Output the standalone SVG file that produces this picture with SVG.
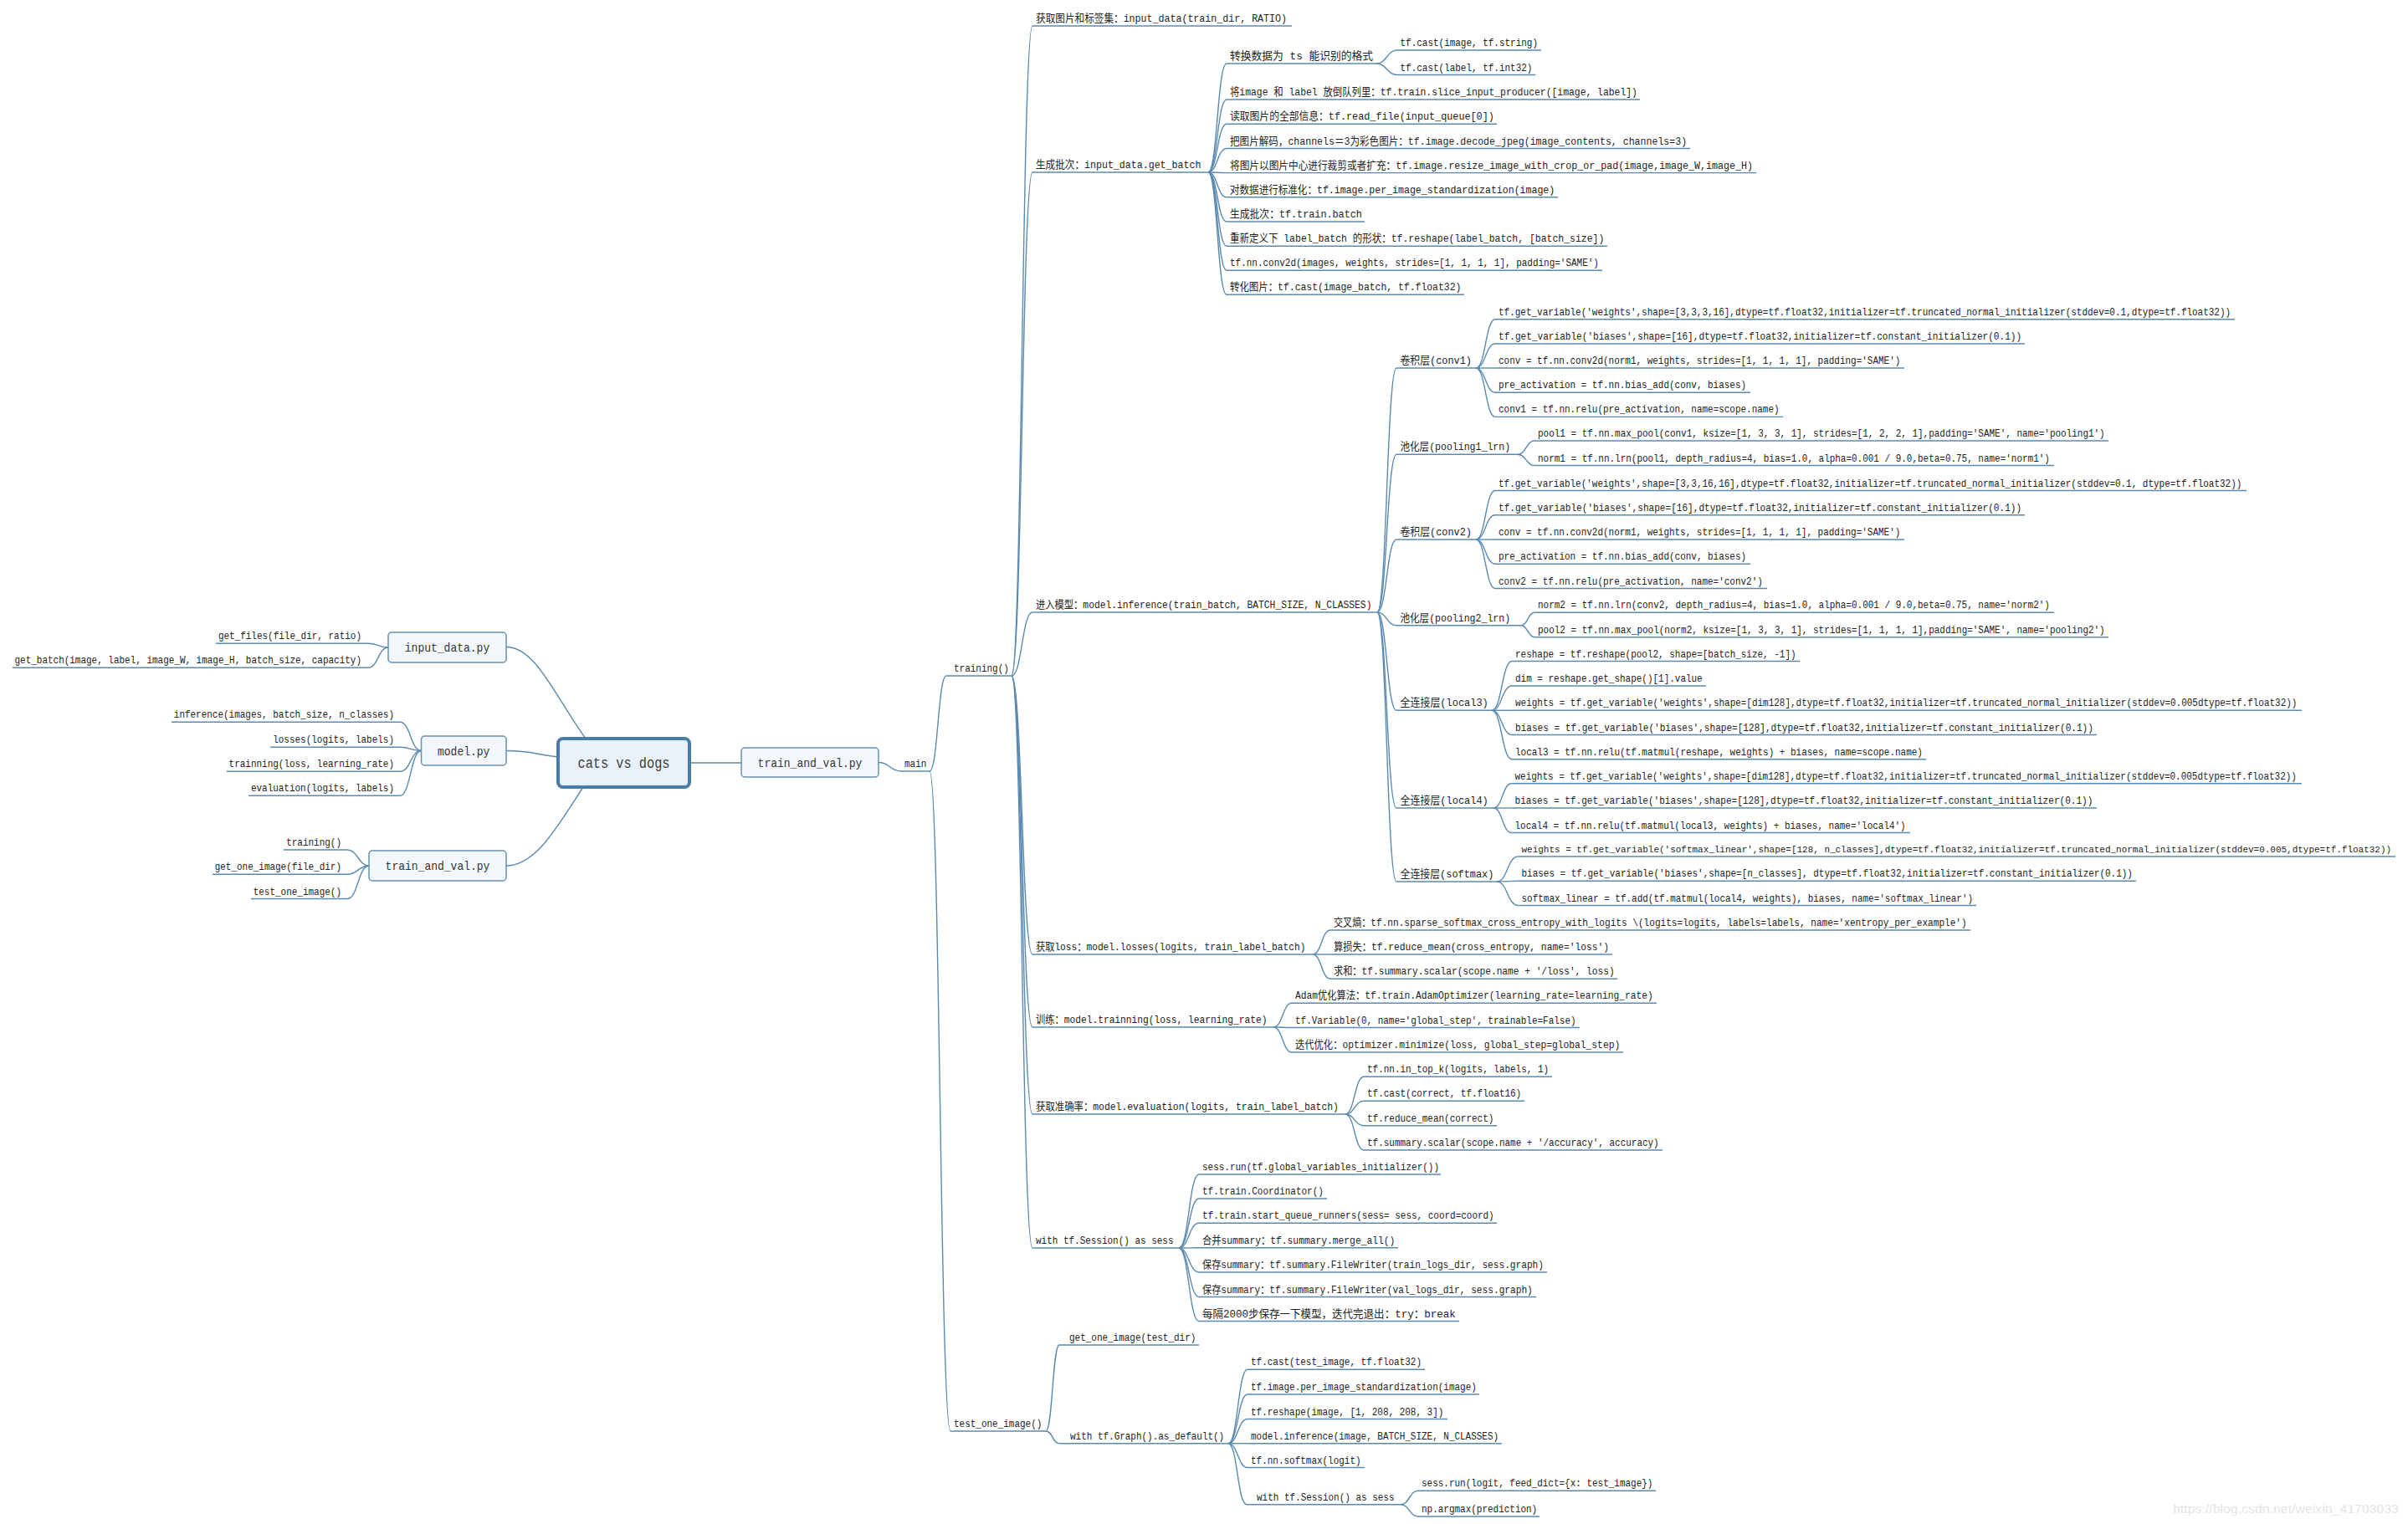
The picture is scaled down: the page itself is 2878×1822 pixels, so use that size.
<svg xmlns="http://www.w3.org/2000/svg" width="2878" height="1822" viewBox="0 0 2878 1822">
<style>
.t{font-family:"Liberation Mono","Noto Sans CJK SC",monospace;font-size:13px;fill:#222}
.s12{font-size:12px}
.s11{font-size:11px}
.bt{font-family:"Liberation Mono","Noto Sans CJK SC",monospace;font-size:15px;fill:#333}
.rt{font-family:"Liberation Mono","Noto Sans CJK SC",monospace;font-size:18px;fill:#3c3c3c}
.u,.c{fill:none;stroke:#5b8ab0;stroke-width:1.4}
.bx{fill:#f2f7fc;stroke:#6590b5;stroke-width:1.5}
.root{fill:#e8f1fa;stroke:#4a7ca8;stroke-width:4}
.wm{font-family:"Liberation Sans",Arial,sans-serif;font-size:15px;fill:#e4e4e4}
</style>
<rect width="2878" height="1822" fill="#ffffff"/>
<g id="connectors">
<path class="c" d="M605 773.5 C640 773.5 662 830 700 883"/>
<path class="c" d="M605 897.5 C635 897.5 640 902 667 905"/>
<path class="c" d="M605 1035 C640 1035 665 990 697 941"/>
<path class="c" d="M824 912 H886"/>
<path class="c" d="M464 774 C452 774 452 769.3 440 769.3"/>
<path class="c" d="M464 774 C452 774 452 798.3 440 798.3"/>
<path class="c" d="M503.5 897.5 C490.75 897.5 490.75 863.3 478 863.3"/>
<path class="c" d="M503.5 897.5 C490.75 897.5 490.75 893.3 478 893.3"/>
<path class="c" d="M503.5 897.5 C490.75 897.5 490.75 922.3 478 922.3"/>
<path class="c" d="M503.5 897.5 C490.75 897.5 490.75 951.3 478 951.3"/>
<path class="c" d="M441 1035 C428 1035 428 1016 415 1016"/>
<path class="c" d="M441 1035 C428 1035 428 1045.3 415 1045.3"/>
<path class="c" d="M441 1035 C428 1035 428 1074.5 415 1074.5"/>
<path class="c" d="M1050 911.5 C1063.5 911.5 1063.5 922 1077 922"/>
<path class="c" d="M1111 922 C1121 922 1121 808 1131 808"/>
<path class="c" d="M1111 922 C1123.5 922 1123.5 1711 1136 1711"/>
<path class="c" d="M1209 808 C1221.5 808 1221.5 31 1234 31"/>
<path class="c" d="M1209 808 C1221.5 808 1221.5 206 1234 206"/>
<path class="c" d="M1209 808 C1221.5 808 1221.5 732 1234 732"/>
<path class="c" d="M1209 808 C1221.5 808 1221.5 1141 1234 1141"/>
<path class="c" d="M1209 808 C1221.5 808 1221.5 1228 1234 1228"/>
<path class="c" d="M1209 808 C1221.5 808 1221.5 1332 1234 1332"/>
<path class="c" d="M1209 808 C1221.5 808 1221.5 1492 1234 1492"/>
<path class="c" d="M1250 1711 C1258 1711 1258 1608 1266 1608"/>
<path class="c" d="M1250 1711 C1258 1711 1258 1725.7 1266 1725.7"/>
<path class="c" d="M1444 206 C1455 206 1455 76 1466 76"/>
<path class="c" d="M1444 206 C1455 206 1455 119 1466 119"/>
<path class="c" d="M1444 206 C1455 206 1455 148.3 1466 148.3"/>
<path class="c" d="M1444 206 C1455 206 1455 177.5 1466 177.5"/>
<path class="c" d="M1444 206 C1455 206 1455 206.6 1466 206.6"/>
<path class="c" d="M1444 206 C1455 206 1455 235.8 1466 235.8"/>
<path class="c" d="M1444 206 C1455 206 1455 265 1466 265"/>
<path class="c" d="M1444 206 C1455 206 1455 294.2 1466 294.2"/>
<path class="c" d="M1444 206 C1455 206 1455 323.2 1466 323.2"/>
<path class="c" d="M1444 206 C1455 206 1455 352.2 1466 352.2"/>
<path class="c" d="M1645 76 C1657.5 76 1657.5 60 1670 60"/>
<path class="c" d="M1645 76 C1657.5 76 1657.5 89.5 1670 89.5"/>
<path class="c" d="M1646 732 C1657.5 732 1657.5 440 1669 440"/>
<path class="c" d="M1646 732 C1657.5 732 1657.5 543.3 1669 543.3"/>
<path class="c" d="M1646 732 C1657.5 732 1657.5 645 1669 645"/>
<path class="c" d="M1646 732 C1657.5 732 1657.5 747.7 1669 747.7"/>
<path class="c" d="M1646 732 C1657.5 732 1657.5 849.3 1669 849.3"/>
<path class="c" d="M1646 732 C1657.5 732 1657.5 966 1669 966"/>
<path class="c" d="M1646 732 C1657.5 732 1657.5 1054 1669 1054"/>
<path class="c" d="M1764 440 C1775.5 440 1775.5 381.7 1787 381.7"/>
<path class="c" d="M1764 440 C1775.5 440 1775.5 411 1787 411"/>
<path class="c" d="M1764 440 H1787"/>
<path class="c" d="M1764 440 C1775.5 440 1775.5 469.2 1787 469.2"/>
<path class="c" d="M1764 440 C1775.5 440 1775.5 498.4 1787 498.4"/>
<path class="c" d="M1814 543.3 C1824 543.3 1824 527 1834 527"/>
<path class="c" d="M1814 543.3 C1824 543.3 1824 556.5 1834 556.5"/>
<path class="c" d="M1764 645 C1775.5 645 1775.5 586.5 1787 586.5"/>
<path class="c" d="M1764 645 C1775.5 645 1775.5 615.8 1787 615.8"/>
<path class="c" d="M1764 645 H1787"/>
<path class="c" d="M1764 645 C1775.5 645 1775.5 674.3 1787 674.3"/>
<path class="c" d="M1764 645 C1775.5 645 1775.5 703.5 1787 703.5"/>
<path class="c" d="M1818 747.7 C1826 747.7 1826 732.3 1834 732.3"/>
<path class="c" d="M1818 747.7 C1826 747.7 1826 761.7 1834 761.7"/>
<path class="c" d="M1783 849.3 C1795 849.3 1795 790.5 1807 790.5"/>
<path class="c" d="M1783 849.3 C1795 849.3 1795 820 1807 820"/>
<path class="c" d="M1783 849.3 H1807"/>
<path class="c" d="M1783 849.3 C1795 849.3 1795 878.5 1807 878.5"/>
<path class="c" d="M1783 849.3 C1795 849.3 1795 907.7 1807 907.7"/>
<path class="c" d="M1785 966 C1795.7 966 1795.7 936.8 1806.5 936.8"/>
<path class="c" d="M1785 966 H1806.5"/>
<path class="c" d="M1785 966 C1795.7 966 1795.7 995.5 1806.5 995.5"/>
<path class="c" d="M1789 1054 C1801.7 1054 1801.7 1024 1814.5 1024"/>
<path class="c" d="M1789 1054 C1801.7 1054 1801.7 1053.3 1814.5 1053.3"/>
<path class="c" d="M1789 1054 C1801.7 1054 1801.7 1082.5 1814.5 1082.5"/>
<path class="c" d="M1569 1141 C1579.5 1141 1579.5 1112 1590 1112"/>
<path class="c" d="M1569 1141 H1590"/>
<path class="c" d="M1569 1141 C1579.5 1141 1579.5 1170.3 1590 1170.3"/>
<path class="c" d="M1522 1228 C1533 1228 1533 1199.3 1544 1199.3"/>
<path class="c" d="M1522 1228 C1533 1228 1533 1228.5 1544 1228.5"/>
<path class="c" d="M1522 1228 C1533 1228 1533 1258 1544 1258"/>
<path class="c" d="M1608 1332 C1619 1332 1619 1287.3 1630 1287.3"/>
<path class="c" d="M1608 1332 C1619 1332 1619 1316.3 1630 1316.3"/>
<path class="c" d="M1608 1332 C1619 1332 1619 1345.7 1630 1345.7"/>
<path class="c" d="M1608 1332 C1619 1332 1619 1375 1630 1375"/>
<path class="c" d="M1409 1492 C1421 1492 1421 1404 1433 1404"/>
<path class="c" d="M1409 1492 C1421 1492 1421 1433 1433 1433"/>
<path class="c" d="M1409 1492 C1421 1492 1421 1462.3 1433 1462.3"/>
<path class="c" d="M1409 1492 C1421 1492 1421 1491.7 1433 1491.7"/>
<path class="c" d="M1409 1492 C1421 1492 1421 1521 1433 1521"/>
<path class="c" d="M1409 1492 C1421 1492 1421 1550.5 1433 1550.5"/>
<path class="c" d="M1409 1492 C1421 1492 1421 1579.5 1433 1579.5"/>
<path class="c" d="M1468 1725.7 C1479.5 1725.7 1479.5 1637.3 1491 1637.3"/>
<path class="c" d="M1468 1725.7 C1479.5 1725.7 1479.5 1667 1491 1667"/>
<path class="c" d="M1468 1725.7 C1479.5 1725.7 1479.5 1696.5 1491 1696.5"/>
<path class="c" d="M1468 1725.7 H1491"/>
<path class="c" d="M1468 1725.7 C1479.5 1725.7 1479.5 1754.5 1491 1754.5"/>
<path class="c" d="M1468 1725.7 C1479 1725.7 1479 1798.7 1490 1798.7"/>
<path class="c" d="M1674 1798.7 C1684.5 1798.7 1684.5 1782.3 1695 1782.3"/>
<path class="c" d="M1674 1798.7 C1684.5 1798.7 1684.5 1813 1695 1813"/>
</g>
<g id="root"><rect class="root" x="667" y="883" width="157" height="58" rx="6"/><text class="rt" x="690.5" y="918" textLength="110" lengthAdjust="spacingAndGlyphs">cats vs dogs</text></g>
<g id="input_data_py"><rect class="bx" x="464" y="756" width="141" height="36" rx="4"/><text class="bt" x="483.8" y="779" textLength="101.4" lengthAdjust="spacingAndGlyphs">input_data.py</text></g>
<g id="model_py"><rect class="bx" x="503.5" y="880" width="101.5" height="35" rx="4"/><text class="bt" x="523" y="902.5" textLength="62.4" lengthAdjust="spacingAndGlyphs">model.py</text></g>
<g id="train_and_val_py_left"><rect class="bx" x="441" y="1017" width="164" height="36" rx="4"/><text class="bt" x="460.6" y="1040" textLength="124.8" lengthAdjust="spacingAndGlyphs">train_and_val.py</text></g>
<g id="train_and_val_py"><rect class="bx" x="886" y="894" width="164" height="35" rx="4"/><text class="bt" x="905.6" y="916.5" textLength="124.8" lengthAdjust="spacingAndGlyphs">train_and_val.py</text></g>
<g id="L1"><text class="t" x="260.9" y="764.3" textLength="171.1" lengthAdjust="spacingAndGlyphs">get_files(file_dir, ratio)</text><path class="u" d="M258 769.3H440"/></g>
<g id="L2"><text class="t" x="17.5" y="793.3" textLength="414.5" lengthAdjust="spacingAndGlyphs">get_batch(image, label, image_W, image_H, batch_size, capacity)</text><path class="u" d="M15 798.3H440"/></g>
<g id="L3"><text class="t" x="207.8" y="858.3" textLength="263.2" lengthAdjust="spacingAndGlyphs">inference(images, batch_size, n_classes)</text><path class="u" d="M205 863.3H478"/></g>
<g id="L4"><text class="t" x="326.2" y="888.3" textLength="144.8" lengthAdjust="spacingAndGlyphs">losses(logits, labels)</text><path class="u" d="M323 893.3H478"/></g>
<g id="L5"><text class="t" x="273.6" y="917.3" textLength="197.4" lengthAdjust="spacingAndGlyphs">trainning(loss, learning_rate)</text><path class="u" d="M271 922.3H478"/></g>
<g id="L6"><text class="t" x="299.9" y="946.3" textLength="171.1" lengthAdjust="spacingAndGlyphs">evaluation(logits, labels)</text><path class="u" d="M297 951.3H478"/></g>
<g id="L7"><text class="t" x="342.2" y="1011" textLength="65.8" lengthAdjust="spacingAndGlyphs">training()</text><path class="u" d="M339 1016H415"/></g>
<g id="L8"><text class="t" x="256.7" y="1040.3" textLength="151.3" lengthAdjust="spacingAndGlyphs">get_one_image(file_dir)</text><path class="u" d="M254 1045.3H415"/></g>
<g id="L9"><text class="t" x="302.7" y="1069.5" textLength="105.3" lengthAdjust="spacingAndGlyphs">test_one_image()</text><path class="u" d="M300 1074.5H415"/></g>
<g id="main"><text class="t" x="1081" y="917" textLength="26.3" lengthAdjust="spacingAndGlyphs">main</text><path class="u" d="M1077 922H1111"/></g>
<g id="training"><text class="t" x="1140" y="803" textLength="65.8" lengthAdjust="spacingAndGlyphs">training()</text><path class="u" d="M1131 808H1209"/></g>
<g id="test_one_image"><text class="t" x="1140" y="1706" textLength="105.3" lengthAdjust="spacingAndGlyphs">test_one_image()</text><path class="u" d="M1136 1711H1250"/></g>
<g id="T1"><text class="t" x="1238" y="26" textLength="300" lengthAdjust="spacingAndGlyphs">获取图片和标签集：input_data(train_dir, RATIO)</text><path class="u" d="M1234 31H1544"/></g>
<g id="T2"><text class="t" x="1238" y="201" textLength="197.4" lengthAdjust="spacingAndGlyphs">生成批次：input_data.get_batch</text><path class="u" d="M1234 206H1444"/></g>
<g id="T3"><text class="t" x="1238" y="727" textLength="401.4" lengthAdjust="spacingAndGlyphs">进入模型：model.inference(train_batch, BATCH_SIZE, N_CLASSES)</text><path class="u" d="M1234 732H1646"/></g>
<g id="T4"><text class="t" x="1238" y="1136" textLength="322.4" lengthAdjust="spacingAndGlyphs">获取loss：model.losses(logits, train_label_batch)</text><path class="u" d="M1234 1141H1569"/></g>
<g id="T5"><text class="t" x="1238" y="1223" textLength="276.4" lengthAdjust="spacingAndGlyphs">训练：model.trainning(loss, learning_rate)</text><path class="u" d="M1234 1228H1522"/></g>
<g id="T6"><text class="t" x="1238" y="1327" textLength="361.9" lengthAdjust="spacingAndGlyphs">获取准确率：model.evaluation(logits, train_label_batch)</text><path class="u" d="M1234 1332H1608"/></g>
<g id="T7"><text class="t" x="1238" y="1487" textLength="164.5" lengthAdjust="spacingAndGlyphs">with tf.Session() as sess</text><path class="u" d="M1234 1492H1409"/></g>
<g id="G1"><text class="t" x="1470" y="71" textLength="171.1" lengthAdjust="spacingAndGlyphs">转换数据为 ts 能识别的格式</text><path class="u" d="M1466 76H1645"/></g>
<g id="G1a"><text class="t" x="1673.5" y="55" textLength="164.5" lengthAdjust="spacingAndGlyphs">tf.cast(image, tf.string)</text><path class="u" d="M1670 60H1842"/></g>
<g id="G1b"><text class="t" x="1673.5" y="84.5" textLength="157.9" lengthAdjust="spacingAndGlyphs">tf.cast(label, tf.int32)</text><path class="u" d="M1670 89.5H1835"/></g>
<g id="G2"><text class="t" x="1470" y="114" textLength="486.9" lengthAdjust="spacingAndGlyphs">将image 和 label 放倒队列里：tf.train.slice_input_producer([image, label])</text><path class="u" d="M1466 119H1960"/></g>
<g id="G3"><text class="t" x="1470" y="143.3" textLength="315.8" lengthAdjust="spacingAndGlyphs">读取图片的全部信息：tf.read_file(input_queue[0])</text><path class="u" d="M1466 148.3H1789"/></g>
<g id="G4"><text class="t" x="1470" y="172.5" textLength="546.1" lengthAdjust="spacingAndGlyphs">把图片解码，channels＝3为彩色图片：tf.image.decode_jpeg(image_contents, channels=3)</text><path class="u" d="M1466 177.5H2020"/></g>
<g id="G5"><text class="t" x="1470" y="201.6" textLength="625.1" lengthAdjust="spacingAndGlyphs">将图片以图片中心进行裁剪或者扩充：tf.image.resize_image_with_crop_or_pad(image,image_W,image_H)</text><path class="u" d="M1466 206.6H2099"/></g>
<g id="G6"><text class="t" x="1470" y="230.8" textLength="388.2" lengthAdjust="spacingAndGlyphs">对数据进行标准化：tf.image.per_image_standardization(image)</text><path class="u" d="M1466 235.8H1862"/></g>
<g id="G7"><text class="t" x="1470" y="260" textLength="157.9" lengthAdjust="spacingAndGlyphs">生成批次：tf.train.batch</text><path class="u" d="M1466 265H1631"/></g>
<g id="G8"><text class="t" x="1470" y="289.2" textLength="447.4" lengthAdjust="spacingAndGlyphs">重新定义下 label_batch 的形状：tf.reshape(label_batch, [batch_size])</text><path class="u" d="M1466 294.2H1921"/></g>
<g id="G9"><text class="t" x="1470" y="318.2" textLength="440.9" lengthAdjust="spacingAndGlyphs">tf.nn.conv2d(images, weights, strides=[1, 1, 1, 1], padding='SAME')</text><path class="u" d="M1466 323.2H1915"/></g>
<g id="G10"><text class="t" x="1470" y="347.2" textLength="276.4" lengthAdjust="spacingAndGlyphs">转化图片：tf.cast(image_batch, tf.float32)</text><path class="u" d="M1466 352.2H1750"/></g>
<g id="I1"><text class="t" x="1673.5" y="435" textLength="85.5" lengthAdjust="spacingAndGlyphs">卷积层(conv1)</text><path class="u" d="M1669 440H1764"/></g>
<g id="C1"><text class="t" x="1791" y="376.7" textLength="875.1" lengthAdjust="spacingAndGlyphs">tf.get_variable('weights',shape=[3,3,3,16],dtype=tf.float32,initializer=tf.truncated_normal_initializer(stddev=0.1,dtype=tf.float32))</text><path class="u" d="M1787 381.7H2671"/></g>
<g id="C2"><text class="t" x="1791" y="406" textLength="625.1" lengthAdjust="spacingAndGlyphs">tf.get_variable('biases',shape=[16],dtype=tf.float32,initializer=tf.constant_initializer(0.1))</text><path class="u" d="M1787 411H2420"/></g>
<g id="C3"><text class="t" x="1791" y="435" textLength="480.3" lengthAdjust="spacingAndGlyphs">conv = tf.nn.conv2d(norm1, weights, strides=[1, 1, 1, 1], padding='SAME')</text><path class="u" d="M1787 440H2276"/></g>
<g id="C4"><text class="t" x="1791" y="464.2" textLength="296.1" lengthAdjust="spacingAndGlyphs">pre_activation = tf.nn.bias_add(conv, biases)</text><path class="u" d="M1787 469.2H2092"/></g>
<g id="C5"><text class="t" x="1791" y="493.4" textLength="335.6" lengthAdjust="spacingAndGlyphs">conv1 = tf.nn.relu(pre_activation, name=scope.name)</text><path class="u" d="M1787 498.4H2131"/></g>
<g id="I2"><text class="t" x="1673.5" y="538.3" textLength="131.6" lengthAdjust="spacingAndGlyphs">池化层(pooling1_lrn)</text><path class="u" d="M1669 543.3H1814"/></g>
<g id="P1"><text class="t" x="1838" y="522" textLength="677.7" lengthAdjust="spacingAndGlyphs">pool1 = tf.nn.max_pool(conv1, ksize=[1, 3, 3, 1], strides=[1, 2, 2, 1],padding='SAME', name='pooling1')</text><path class="u" d="M1834 527H2520"/></g>
<g id="P2"><text class="t" x="1838" y="551.5" textLength="611.9" lengthAdjust="spacingAndGlyphs">norm1 = tf.nn.lrn(pool1, depth_radius=4, bias=1.0, alpha=0.001 / 9.0,beta=0.75, name='norm1')</text><path class="u" d="M1834 556.5H2455"/></g>
<g id="I3"><text class="t" x="1673.5" y="640" textLength="85.5" lengthAdjust="spacingAndGlyphs">卷积层(conv2)</text><path class="u" d="M1669 645H1764"/></g>
<g id="D1"><text class="t" x="1791" y="581.5" textLength="888.3" lengthAdjust="spacingAndGlyphs">tf.get_variable('weights',shape=[3,3,16,16],dtype=tf.float32,initializer=tf.truncated_normal_initializer(stddev=0.1, dtype=tf.float32))</text><path class="u" d="M1787 586.5H2685"/></g>
<g id="D2"><text class="t" x="1791" y="610.8" textLength="625.1" lengthAdjust="spacingAndGlyphs">tf.get_variable('biases',shape=[16],dtype=tf.float32,initializer=tf.constant_initializer(0.1))</text><path class="u" d="M1787 615.8H2420"/></g>
<g id="D3"><text class="t" x="1791" y="640" textLength="480.3" lengthAdjust="spacingAndGlyphs">conv = tf.nn.conv2d(norm1, weights, strides=[1, 1, 1, 1], padding='SAME')</text><path class="u" d="M1787 645H2276"/></g>
<g id="D4"><text class="t" x="1791" y="669.3" textLength="296.1" lengthAdjust="spacingAndGlyphs">pre_activation = tf.nn.bias_add(conv, biases)</text><path class="u" d="M1787 674.3H2092"/></g>
<g id="D5"><text class="t" x="1791" y="698.5" textLength="315.8" lengthAdjust="spacingAndGlyphs">conv2 = tf.nn.relu(pre_activation, name='conv2')</text><path class="u" d="M1787 703.5H2112"/></g>
<g id="I4"><text class="t" x="1673.5" y="742.7" textLength="131.6" lengthAdjust="spacingAndGlyphs">池化层(pooling2_lrn)</text><path class="u" d="M1669 747.7H1818"/></g>
<g id="Q1"><text class="t" x="1838" y="727.3" textLength="611.9" lengthAdjust="spacingAndGlyphs">norm2 = tf.nn.lrn(conv2, depth_radius=4, bias=1.0, alpha=0.001 / 9.0,beta=0.75, name='norm2')</text><path class="u" d="M1834 732.3H2455"/></g>
<g id="Q2"><text class="t" x="1838" y="756.7" textLength="677.7" lengthAdjust="spacingAndGlyphs">pool2 = tf.nn.max_pool(norm2, ksize=[1, 3, 3, 1], strides=[1, 1, 1, 1],padding='SAME', name='pooling2')</text><path class="u" d="M1834 761.7H2520"/></g>
<g id="I5"><text class="t" x="1673.5" y="844.3" textLength="105.3" lengthAdjust="spacingAndGlyphs">全连接层(local3)</text><path class="u" d="M1669 849.3H1783"/></g>
<g id="R1"><text class="t" x="1811" y="785.5" textLength="335.6" lengthAdjust="spacingAndGlyphs">reshape = tf.reshape(pool2, shape=[batch_size, -1])</text><path class="u" d="M1807 790.5H2151"/></g>
<g id="R2"><text class="t" x="1811" y="815" textLength="223.7" lengthAdjust="spacingAndGlyphs">dim = reshape.get_shape()[1].value</text><path class="u" d="M1807 820H2039"/></g>
<g id="R3"><text class="t s12" x="1811" y="844.3" textLength="934.4" lengthAdjust="spacingAndGlyphs">weights = tf.get_variable('weights',shape=[dim128],dtype=tf.float32,initializer=tf.truncated_normal_initializer(stddev=0.005dtype=tf.float32))</text><path class="u" d="M1807 849.3H2751"/></g>
<g id="R4"><text class="t" x="1811" y="873.5" textLength="690.9" lengthAdjust="spacingAndGlyphs">biases = tf.get_variable('biases',shape=[128],dtype=tf.float32,initializer=tf.constant_initializer(0.1))</text><path class="u" d="M1807 878.5H2506"/></g>
<g id="R5"><text class="t" x="1811" y="902.7" textLength="486.9" lengthAdjust="spacingAndGlyphs">local3 = tf.nn.relu(tf.matmul(reshape, weights) + biases, name=scope.name)</text><path class="u" d="M1807 907.7H2302"/></g>
<g id="I6"><text class="t" x="1673.5" y="961" textLength="105.3" lengthAdjust="spacingAndGlyphs">全连接层(local4)</text><path class="u" d="M1669 966H1785"/></g>
<g id="S1"><text class="t s12" x="1810.5" y="931.8" textLength="934.4" lengthAdjust="spacingAndGlyphs">weights = tf.get_variable('weights',shape=[dim128],dtype=tf.float32,initializer=tf.truncated_normal_initializer(stddev=0.005dtype=tf.float32))</text><path class="u" d="M1806.5 936.8H2751"/></g>
<g id="S2"><text class="t" x="1810.5" y="961" textLength="690.9" lengthAdjust="spacingAndGlyphs">biases = tf.get_variable('biases',shape=[128],dtype=tf.float32,initializer=tf.constant_initializer(0.1))</text><path class="u" d="M1806.5 966H2506"/></g>
<g id="S3"><text class="t" x="1810.5" y="990.5" textLength="467.2" lengthAdjust="spacingAndGlyphs">local4 = tf.nn.relu(tf.matmul(local3, weights) + biases, name='local4')</text><path class="u" d="M1806.5 995.5H2283"/></g>
<g id="I7"><text class="t" x="1673.5" y="1049" textLength="111.9" lengthAdjust="spacingAndGlyphs">全连接层(softmax)</text><path class="u" d="M1669 1054H1789"/></g>
<g id="M1"><text class="t s11" x="1818.5" y="1019" textLength="1039.6" lengthAdjust="spacingAndGlyphs">weights = tf.get_variable('softmax_linear',shape=[128, n_classes],dtype=tf.float32,initializer=tf.truncated_normal_initializer(stddev=0.005,dtype=tf.float32))</text><path class="u" d="M1814.5 1024H2863"/></g>
<g id="M2"><text class="t" x="1818.5" y="1048.3" textLength="730.4" lengthAdjust="spacingAndGlyphs">biases = tf.get_variable('biases',shape=[n_classes], dtype=tf.float32,initializer=tf.constant_initializer(0.1))</text><path class="u" d="M1814.5 1053.3H2553"/></g>
<g id="M3"><text class="t" x="1818.5" y="1077.5" textLength="539.6" lengthAdjust="spacingAndGlyphs">softmax_linear = tf.add(tf.matmul(local4, weights), biases, name='softmax_linear')</text><path class="u" d="M1814.5 1082.5H2362"/></g>
<g id="X1"><text class="t" x="1594" y="1107" textLength="756.7" lengthAdjust="spacingAndGlyphs">交叉熵：tf.nn.sparse_softmax_cross_entropy_with_logits \(logits=logits, labels=labels, name='xentropy_per_example')</text><path class="u" d="M1590 1112H2355"/></g>
<g id="X2"><text class="t" x="1594" y="1136" textLength="329" lengthAdjust="spacingAndGlyphs">算损失：tf.reduce_mean(cross_entropy, name='loss')</text><path class="u" d="M1590 1141H1927"/></g>
<g id="X3"><text class="t" x="1594" y="1165.3" textLength="335.6" lengthAdjust="spacingAndGlyphs">求和：tf.summary.scalar(scope.name + '/loss', loss)</text><path class="u" d="M1590 1170.3H1933"/></g>
<g id="Y1"><text class="t" x="1548" y="1194.3" textLength="427.7" lengthAdjust="spacingAndGlyphs">Adam优化算法：tf.train.AdamOptimizer(learning_rate=learning_rate)</text><path class="u" d="M1544 1199.3H1980"/></g>
<g id="Y2"><text class="t" x="1548" y="1223.5" textLength="335.6" lengthAdjust="spacingAndGlyphs">tf.Variable(0, name='global_step', trainable=False)</text><path class="u" d="M1544 1228.5H1888"/></g>
<g id="Y3"><text class="t" x="1548" y="1253" textLength="388.2" lengthAdjust="spacingAndGlyphs">迭代优化：optimizer.minimize(loss, global_step=global_step)</text><path class="u" d="M1544 1258H1940"/></g>
<g id="E1"><text class="t" x="1634" y="1282.3" textLength="217.1" lengthAdjust="spacingAndGlyphs">tf.nn.in_top_k(logits, labels, 1)</text><path class="u" d="M1630 1287.3H1855"/></g>
<g id="E2"><text class="t" x="1634" y="1311.3" textLength="184.2" lengthAdjust="spacingAndGlyphs">tf.cast(correct, tf.float16)</text><path class="u" d="M1630 1316.3H1822"/></g>
<g id="E3"><text class="t" x="1634" y="1340.7" textLength="151.3" lengthAdjust="spacingAndGlyphs">tf.reduce_mean(correct)</text><path class="u" d="M1630 1345.7H1789"/></g>
<g id="E4"><text class="t" x="1634" y="1370" textLength="348.7" lengthAdjust="spacingAndGlyphs">tf.summary.scalar(scope.name + '/accuracy', accuracy)</text><path class="u" d="M1630 1375H1987"/></g>
<g id="W1"><text class="t" x="1437" y="1399" textLength="283" lengthAdjust="spacingAndGlyphs">sess.run(tf.global_variables_initializer())</text><path class="u" d="M1433 1404H1722"/></g>
<g id="W2"><text class="t" x="1437" y="1428" textLength="144.8" lengthAdjust="spacingAndGlyphs">tf.train.Coordinator()</text><path class="u" d="M1433 1433H1586"/></g>
<g id="W3"><text class="t" x="1437" y="1457.3" textLength="348.7" lengthAdjust="spacingAndGlyphs">tf.train.start_queue_runners(sess= sess, coord=coord)</text><path class="u" d="M1433 1462.3H1789"/></g>
<g id="W4"><text class="t" x="1437" y="1486.7" textLength="230.3" lengthAdjust="spacingAndGlyphs">合并summary：tf.summary.merge_all()</text><path class="u" d="M1433 1491.7H1671"/></g>
<g id="W5"><text class="t" x="1437" y="1516" textLength="408" lengthAdjust="spacingAndGlyphs">保存summary：tf.summary.FileWriter(train_logs_dir, sess.graph)</text><path class="u" d="M1433 1521H1849"/></g>
<g id="W6"><text class="t" x="1437" y="1545.5" textLength="394.8" lengthAdjust="spacingAndGlyphs">保存summary：tf.summary.FileWriter(val_logs_dir, sess.graph)</text><path class="u" d="M1433 1550.5H1836"/></g>
<g id="W7"><text class="t" x="1437" y="1574.5" textLength="302.7" lengthAdjust="spacingAndGlyphs">每隔2000步保存一下模型，迭代完退出：try：break</text><path class="u" d="M1433 1579.5H1744"/></g>
<g id="K1"><text class="t" x="1278" y="1603" textLength="151.3" lengthAdjust="spacingAndGlyphs">get_one_image(test_dir)</text><path class="u" d="M1266 1608H1433"/></g>
<g id="K2"><text class="t" x="1279" y="1720.7" textLength="184.2" lengthAdjust="spacingAndGlyphs">with tf.Graph().as_default()</text><path class="u" d="M1266 1725.7H1468"/></g>
<g id="V1"><text class="t" x="1495" y="1632.3" textLength="204" lengthAdjust="spacingAndGlyphs">tf.cast(test_image, tf.float32)</text><path class="u" d="M1491 1637.3H1703"/></g>
<g id="V2"><text class="t" x="1495" y="1662" textLength="269.8" lengthAdjust="spacingAndGlyphs">tf.image.per_image_standardization(image)</text><path class="u" d="M1491 1667H1768"/></g>
<g id="V3"><text class="t" x="1495" y="1691.5" textLength="230.3" lengthAdjust="spacingAndGlyphs">tf.reshape(image, [1, 208, 208, 3])</text><path class="u" d="M1491 1696.5H1730"/></g>
<g id="V4"><text class="t" x="1495" y="1720.7" textLength="296.1" lengthAdjust="spacingAndGlyphs">model.inference(image, BATCH_SIZE, N_CLASSES)</text><path class="u" d="M1491 1725.7H1795"/></g>
<g id="V5"><text class="t" x="1495" y="1749.5" textLength="131.6" lengthAdjust="spacingAndGlyphs">tf.nn.softmax(logit)</text><path class="u" d="M1491 1754.5H1631"/></g>
<g id="V6"><text class="t" x="1502" y="1793.7" textLength="164.5" lengthAdjust="spacingAndGlyphs">with tf.Session() as sess</text><path class="u" d="M1490 1798.7H1674"/></g>
<g id="Z1"><text class="t" x="1699" y="1777.3" textLength="276.4" lengthAdjust="spacingAndGlyphs">sess.run(logit, feed_dict={x: test_image})</text><path class="u" d="M1695 1782.3H1979"/></g>
<g id="Z2"><text class="t" x="1699" y="1808" textLength="138.2" lengthAdjust="spacingAndGlyphs">np.argmax(prediction)</text><path class="u" d="M1695 1813H1840"/></g>
<text class="wm" x="2597" y="1809" textLength="270" lengthAdjust="spacingAndGlyphs">https://blog.csdn.net/weixin_41703033</text>
</svg>
